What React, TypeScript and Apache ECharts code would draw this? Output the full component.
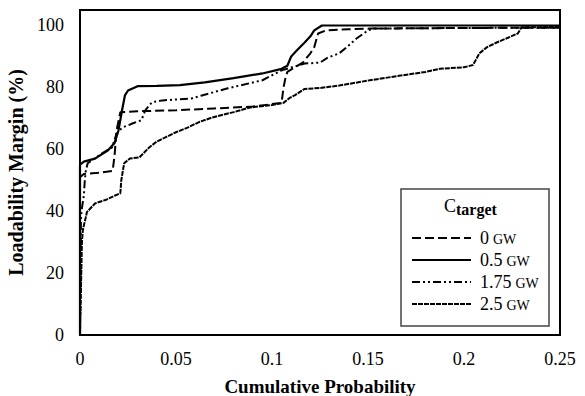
import React, { useEffect, useRef } from 'react';
import * as echarts from 'echarts';

const seriesNames = ['0 GW', '0.5 GW', '1.75 GW', '2.5 GW'];
const legendNumbers = ['0', '0.5', '1.75', '2.5'];
const legendUnit = 'GW';
const legendTitleMain = 'C';
const legendTitleSub = 'target';
const xTickLabels = [0, 0.05, 0.1, 0.15, 0.2, 0.25];
const yTickLabels = [0, 20, 40, 60, 80, 100];

// 0 GW (dashed)
const gw0: [number, number][] = [
  [0, 0], [0, 51], [0.002, 52], [0.008, 52.3], [0.017, 53], [0.018, 58], [0.019, 66],
  [0.021, 72], [0.03, 72.3], [0.05, 72.6], [0.07, 73.2], [0.09, 73.8], [0.105, 75],
  [0.106, 80], [0.107, 83], [0.108, 85], [0.112, 86.5], [0.116, 88], [0.12, 91],
  [0.122, 93], [0.124, 97.4], [0.128, 98.4], [0.14, 98.8], [0.151, 99], [0.2, 99.2], [0.25, 99.3],
];

// 0.5 GW (solid)
const gw05: [number, number][] = [
  [0, 0], [0, 55], [0.002, 56], [0.0078, 57], [0.0146, 59.7], [0.018, 62], [0.02, 66],
  [0.0219, 72.6], [0.0234, 77.4], [0.025, 79], [0.03, 80.4], [0.04, 80.5], [0.052, 80.7],
  [0.065, 81.6], [0.08, 83], [0.095, 84.5], [0.105, 86], [0.108, 87], [0.11, 90],
  [0.113, 92], [0.117, 94.5], [0.12, 96.5], [0.122, 98.4], [0.126, 100], [0.25, 100],
];

// 1.75 GW (dash-dot-dot)
const gw175: [number, number][] = [
  [0, 0], [0.0005, 38], [0.001, 41], [0.002, 45], [0.0025, 50], [0.003, 53], [0.004, 55.5],
  [0.0115, 58.7], [0.0167, 60.6], [0.019, 65], [0.022, 67], [0.0276, 68.4], [0.032, 69.4],
  [0.034, 72.6], [0.0375, 75.2], [0.043, 75.8], [0.058, 76.4], [0.0635, 77.4],
  [0.077, 79.7], [0.095, 82.3], [0.105, 85.5], [0.117, 87.7], [0.125, 88], [0.129, 89.6],
  [0.135, 91], [0.139, 93], [0.144, 95.8], [0.15, 98.4], [0.153, 99], [0.2, 99.2], [0.25, 99.3],
];

// 2.5 GW (fine dashed)
const gw25: [number, number][] = [
  [0, 0], [0.001, 30], [0.0015, 34], [0.003, 38], [0.0036, 39.7], [0.0078, 42.5],
  [0.014, 43.8], [0.018, 45], [0.021, 45.8], [0.0215, 50], [0.023, 55.5], [0.026, 57],
  [0.031, 57.4], [0.036, 60.6], [0.04, 62.5], [0.045, 64], [0.05, 65.5], [0.056, 67],
  [0.062, 68.8], [0.069, 70.3], [0.08, 72], [0.0885, 73.5], [0.1, 74.3], [0.106, 75],
  [0.109, 76.5], [0.112, 77.5], [0.117, 79.5], [0.125, 79.8], [0.135, 80.6], [0.151, 82.3],
  [0.168, 83.9], [0.18, 85], [0.1875, 86], [0.2, 86.5], [0.2047, 87.2], [0.208, 91],
  [0.212, 93], [0.217, 94.5], [0.222, 95.8], [0.228, 97.4], [0.23, 99.4], [0.25, 99.5],
];

const seriesData = [gw0, gw05, gw175, gw25];
const dashes: (number[] | null)[] = [[9, 4], null, [8, 3, 2, 3, 2, 3], [5, 1]];
const widths = [2, 2.2, 2, 2];

const FONT = '"Liberation Serif", "Times New Roman", serif';

function measure(text: string, font: string): number {
  const c = document.createElement('canvas').getContext('2d');
  if (!c) return text.length * 8;
  c.font = font;
  return c.measureText(text).width;
}

export default function App() {
  const ref = useRef<HTMLDivElement>(null);
  useEffect(() => {
    document.body.style.margin = '0';
    if (!ref.current) return;
    const chart = echarts.init(ref.current, null, { renderer: 'svg' });

    const legendX = 412;
    const legendY0 = 238;
    const legendGap = 22;
    const numFont = `18px ${FONT}`;
    const unitFont = `14px ${FONT}`;
    const mid = { textAlign: 'left', textVerticalAlign: 'middle', align: 'left', verticalAlign: 'middle' };
    const legendEls: any[] = [
      {
        type: 'rect',
        shape: { x: 401, y: 189, width: 148, height: 137 },
        style: { fill: '#fff', stroke: '#444', lineWidth: 1.5 },
        z: 100,
      },
      {
        type: 'text',
        x: 444, y: 206,
        style: { text: legendTitleMain, font: `18px ${FONT}`, fill: '#000', ...mid },
        z: 101,
      },
      {
        type: 'text',
        x: 456, y: 209,
        style: { text: legendTitleSub, font: `bold 16px ${FONT}`, fill: '#000', ...mid },
        z: 101,
      },
    ];
    seriesNames.forEach((_, i) => {
      const y = legendY0 + i * legendGap;
      legendEls.push({
        type: 'line',
        shape: { x1: legendX, y1: y, x2: legendX + 59, y2: y },
        style: { stroke: '#000', lineWidth: widths[i], lineDash: dashes[i] || undefined },
        z: 101,
      });
      const nx = 480;
      const nw = measure(legendNumbers[i], numFont);
      legendEls.push({
        type: 'text',
        x: nx, y: y,
        style: { text: legendNumbers[i], font: numFont, fill: '#000', ...mid },
        z: 101,
      });
      legendEls.push({
        type: 'text',
        x: nx + nw + 4, y: y + 1.3,
        style: { text: legendUnit, font: unitFont, fill: '#000', ...mid },
        z: 101,
      });
    });

    chart.setOption({
      animation: false,
      backgroundColor: '#fff',
      grid: {
        left: 80, right: 25, top: 10, bottom: 61,
        outerBoundsMode: 'none', containLabel: false,
        show: true, borderColor: '#000', borderWidth: 2, backgroundColor: 'transparent',
      },
      xAxis: {
        type: 'value', min: 0, max: 0.25, interval: 0.05,
        name: 'Cumulative Probability', nameLocation: 'middle', nameGap: 42,
        nameTextStyle: { fontFamily: FONT, fontWeight: 'bold', fontSize: 19, color: '#000' },
        axisLine: { show: true, lineStyle: { color: '#000', width: 2 } },
        axisTick: { show: false },
        splitLine: { show: false },
        axisLabel: {
          fontFamily: FONT, fontSize: 18, color: '#000', margin: 15,
          formatter: (v: number) => {
            const t = xTickLabels.find((k) => Math.abs(k - v) < 1e-9);
            return t === undefined ? '' : String(t);
          },
        },
      },
      yAxis: {
        type: 'value', min: 0, max: 105, interval: 20,
        name: 'Loadability Margin (%)', nameLocation: 'middle', nameGap: 46,
        nameTextStyle: { fontFamily: FONT, fontWeight: 'bold', fontSize: 20, color: '#000' },
        axisLine: { show: true, lineStyle: { color: '#000', width: 2 } },
        axisTick: { show: false },
        splitLine: { show: false },
        axisLabel: {
          fontFamily: FONT, fontSize: 18, color: '#000', margin: 16,
          formatter: (v: number) => (yTickLabels.includes(v) ? String(v) : ''),
        },
      },
      series: seriesData.map((d, i) => ({
        name: seriesNames[i],
        type: 'line',
        data: d,
        symbol: 'none',
        showSymbol: false,
        lineStyle: { color: '#000', width: widths[i], type: dashes[i] || 'solid' },
        z: 3 + i,
      })),
      graphic: legendEls,
    });
    return () => chart.dispose();
  }, []);
  return <div ref={ref} style={{ width: 585, height: 396, position: 'absolute', left: 0, top: 0 }} />;
}
